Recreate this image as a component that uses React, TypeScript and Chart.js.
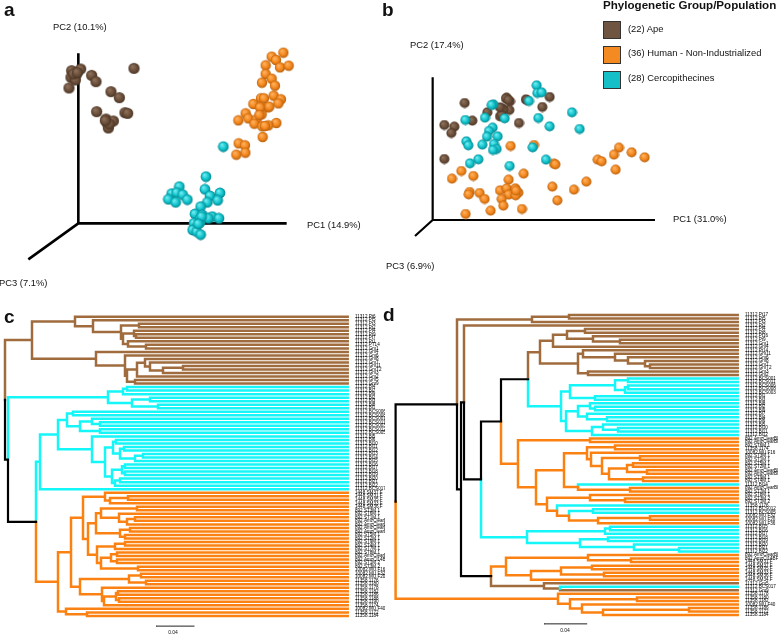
import React, { useEffect, useRef } from "react";
import { Chart, registerables } from "chart.js";

Chart.register(...registerables);

// ---------- Panel a: ordination scores, [PC1, PC2] in figure units from the axis origin
const apeA = [[167,465],[7,463],[-20,458],[-7,445],[-22,438],[-9,430],[-28,406],[40,444],[53,425],[98,395],[123,377],[55,335],[140,332],[148,330],[83,313],[105,307],[87,300],[90,286],[-15,448],[-3,452],[93,298],[81,308]];
const humanA = [[615,512],[580,500],[593,490],[562,474],[605,468],[631,473],[562,448],[580,434],[551,422],[590,413],[586,383],[548,375],[557,375],[608,372],[600,360],[525,358],[552,348],[568,348],[502,330],[550,327],[480,309],[510,315],[535,312],[528,299],[594,301],[570,294],[552,291],[553,259],[481,240],[500,234],[501,212],[474,206],[560,292],[545,348],[573,350],[543,325]];
const cercopA = [[435,230],[383,140],[303,110],[380,102],[280,89],[295,92],[313,86],[425,91],[395,82],[270,72],[292,63],[327,71],[418,69],[387,63],[367,50],[350,28],[372,25],[402,20],[422,15],[365,13],[390,15],[347,0],[365,2],[343,-20],[355,-25],[367,-34],[370,20],[360,-2]];
const axisEndsA = { pc1: [625, 0], pc2: [0, 510], pc3: [-150, -108] };

// ---------- Panel b
const apeB = [[96,351],[222,367],[232,356],[280,362],[351,369],[329,339],[164,323],[209,334],[230,330],[202,311],[119,298],[259,291],[35,285],[65,280],[56,261],[35,183],[220,364],[212,332],[207,315],[227,360],[202,338],[282,360]];
const cercopB = [[312,404],[314,381],[327,383],[289,357],[182,347],[177,345],[418,323],[216,305],[157,307],[98,300],[317,306],[351,281],[441,273],[180,277],[169,267],[163,250],[195,251],[101,236],[107,224],[149,226],[184,228],[192,213],[181,210],[300,218],[340,181],[137,182],[112,170],[231,162]];
const humanB = [[234,222],[304,225],[559,217],[544,196],[597,203],[636,188],[495,181],[507,176],[549,151],[364,169],[368,167],[273,139],[86,147],[122,132],[58,124],[228,121],[461,115],[359,100],[424,91],[111,84],[108,77],[141,81],[202,89],[222,95],[248,95],[257,82],[228,76],[249,74],[156,63],[207,63],[374,59],[212,43],[268,33],[174,28],[99,18],[250,88]];
const axisEndsB = { pc1: [667, 0], pc2: [0, 428], pc3: [-53, -48] };

// ---------- Panel c: dendrogram. A node is [group?, height, ...children]; 0 is a tip, a letter is a tip of that group.
const apeC = ['A',32,[75,0,[93,0,[121,[139,0,0],[123,[134,0,[136,0,0]],[128,0,[146,0,0]]]]]],[96,0,[125,0,[127,[137,[145,0,[150,0,[163,[183,0,0],0]]],0],[135,0,0]]]]];
const cercopC1 = ['C',108,[123,[127,0,0],0],[132,[150,0,0],[158,0,0]]];
const cercopC2 = ['C',40,[58,[67,[73,0,0],[80,[92,0,[100,0,0]],[100,0,0]]],[92,0,[105,[113,[116,0,0],[120,[124,0,0],[135,[143,0,0],0]]],[112,[122,[125,0,0],[125,0,0]],[115,[120,0,0],0]]]]],0];
const humanC = ['H',58,[71,[83,[105,0,[110,[128,0,0],0]],[88,[96,[101,[137,0,0],[119,0,[127,[135,0,0],0]]],[120,[130,0,0],[125,0,0]]],[97,[115,[125,0,0],0],[101,[111,[117,0,0],[117,0,0]],[138,0,0]]]]],[80,[129,[141,0,0],[146,0,0]],[102,0,[104,[116,[118,0,0],[119,0,0]],0]]]],[66,0,[87,0,0]]];
const treeC = ['K',5,apeC,['K',8,cercopC1,['K',36,cercopC2,humanC]]];
const tipC = 347.7;
const labelsC = [
  '11312.Pt6','11312.Pt5','11312.Pt3','11312.Pt2','11312.Pt4','11312.Pt9','11312.Pt7','11312.Pt1','11312.PT14','11312.Gm1','11312.Gm4','11312.Gm6','11312.Gm8','11312.Gm7','11312.Gm11','11312.GmT2','11312.Gm3','11312.Gm2','11312.Gm5','11312.Gm9',
  '11312.Bl4','11312.Bl7','11312.Bl9','11312.Bl2','11312.Bl3','11312.Bl8','11312.Bl1','11312.BCS006','11312.BCS008','11312.BCS001','11312.BCS011','11312.BCS003','11312.BCS012','11312.BCS005','11312.Bl5','11312.Bl6','11312.Bl10','11312.Bl11','11312.Bl12','11312.Bl13','11312.Bl14','11312.Bl15','11312.Bl16','11312.Bl17','11312.Bl18','11312.Bl19','11312.Bl20','11312.Bl21','11312.Bl22','11312.BCS017',
  '1448.SM37.F','1448.SM31.F','1448.SM35.F','1448.SM33.F','1448.SM36.F','892.ST3M.1','892.ST6M.1','892.ST1M.1','892.AmzClearBF','892.AmzClearBF','892.AmzClearBF','892.AmzClearBF','892.ST5M.1','892.ST2M.1','892.ST9M.1','892.ST4M.1','892.ST7M.1','892.ST8M.1','892.AmzClearBF','892.AmzCl14BF2','892.ST1M.2','892.ST3M.2','10082.MU.F16','10082.MU.F32','10082.MU.F20','11358.1176','11358.1180','11358.1178','11358.1182','11358.1186','11358.1188','11358.1190','11358.1174','10082.MU.F40','11358.1172','11358.1184',
];
const scaleBarC = { from: 156, to: 194, leaf: 87.9 };

// ---------- Panel d
const apeD1 = ['A',532,[569,0,0],0];
const apeD2 = ['A',540,[553,[567,[585,0,0],[593,0,[620,0,0]]],0],[578,[583,0,[615,0,[628,0,[645,0,[650,0,0]]]]],[588,0,0]]];
const cercopD1 = ['C',561,[570,[615,[628,0,0],[625,[628,0,0],0]],[595,0,0]],[566,[578,[590,0,[595,0,0]],[587,0,[607,0,0]]],[592,[603,0,[618,0,0]],0]]];
const humanD1 = ['H',518,[590,0,0],[536,[564,[587,[615,0,0],[591,0,[602,[640,0,0],[609,[627,[633,0,0],[647,0,0]],[643,0,0]]]]],[578,'C',[630,0,0]]],[547,[590,0,[625,0,0]],[557,'C',[569,['C',593,0,0],['H',598,[650,0,0],0]]]]]];
const cercopD2 = ['C',527,[605,[610,0,0],0],[580,[608,0,0],[634,0,[679,0,0]]]];
const humanD2 = ['H',506,[588,0,[631,0,0]],[531,[561,[592,0,0],[604,0,0]],0]];
const apeD3 = ['A',544,0,[560,'C',0]];
const humanD3 = ['H',558,0,[570,[637,0,0],[582,0,[603,[689,0,0],0]]]];
const treeD = ['K',395.6,['K',457,apeD1,['K',461,['K',464,'A',['K',481,['K',501,['K',528,apeD2,cercopD1],humanD1],cercopD2]],['K',491,humanD2,apeD3]]],humanD3];
const tipD = 737.7;
const labelsD = [
  '11312.Pt17','11312.Pt5','11312.Pt3','11312.Pt2','11312.Pt4','11312.Pt8','11312.Pt16','11312.Pt9','11312.Gm1','11312.Gm4','11312.Pt14','11312.Gm11','11312.Gm6','11312.Gm8','11312.Gm7','11312.GmT2','11312.Gm3','11312.Gm2',
  '11312.BCS001','11312.BCS011','11312.BCS006','11312.BCS008','11312.BCS003','11312.Bl1','11312.Bl3','11312.Bl8','11312.Bl2','11312.Bl9','11312.Bl7','11312.Bl4','11312.Bl6','11312.Bl5','11312.Bl10','11312.Bl11','11312.Bl12',
  '892.AmzClearBF','892.AmzClearBF','892.ST6M.1','11358.1174','10082.MU.F16','892.ST3M.1','892.ST1M.1','892.ST5M.1','892.ST2M.1','892.AmzClearBF','892.AmzClearBF','892.ST9M.1','892.ST4M.1','11312.Bl14','892.AmzClearBF','892.ST7M.1','892.ST8M.1','892.ST3M.2','892.ST1M.2','11358.1176','11312.BCS012','11312.BCS005','10082.MU.F32','10082.MU.F20','10082.MU.F36',
  '11312.Bl15','11312.Bl16','11312.Bl17','11312.Bl18','11312.Bl19','11312.Bl20','11312.Bl21','11312.Bl22','892.AmzClearBF','892.AmzCl14BF2','1448.SM31.F','1448.SM37.F','1448.SM35.F','1448.SM33.F','1448.SM36.F','1448.SM34.F','11312.Gm5','11312.BCS017','11312.Gm9','11358.1178','11358.1180','11358.1182','10082.MU.F40','11358.1186','11358.1172','11358.1184',
];
const scaleBarD = { from: 544, to: 586.7, leaf: 87.5 };

const legendEntries = [
  { label: "(22) Ape", color: "#6f5441" },
  { label: "(36) Human - Non-Industrialized", color: "#f48a22" },
  { label: "(28) Cercopithecines", color: "#14bfc8" },
];

const sphereBrown = ["#8d705a", "#6a4e3a", "#4a3424"];
const sphereOrange = ["#ffb060", "#f3871c", "#b8600e"];
const sphereCyan = ["#6feaf0", "#0fc3cc", "#07868e"];
const treeColors: Record<string, string> = { A: "#a06c3e", H: "#fb8212", C: "#14f6f8", K: "#000000" };

function sphere(stops: string[], r: number) {
  const c = document.createElement("canvas");
  const size = Math.ceil(2 * r + 1);
  c.width = size;
  c.height = size;
  const g = c.getContext("2d")!;
  const m = size / 2;
  const grad = g.createRadialGradient(m - r * 0.3, m - r * 0.35, r * 0.1, m, m, r);
  grad.addColorStop(0, stops[0]);
  grad.addColorStop(0.6, stops[1]);
  grad.addColorStop(1, stops[2]);
  g.fillStyle = grad;
  g.beginPath();
  g.arc(m, m, r, 0, Math.PI * 2);
  g.fill();
  return c;
}

const toPoints = (rows: number[][]) => rows.map(([x, y]) => ({ x, y }));

function scatterConfig(
  series: { rows: number[][]; stops: string[]; r: number; name: string }[],
  axes: { pc1: number[]; pc2: number[]; pc3: number[] },
  range: { xMin: number; xMax: number; yMin: number; yMax: number },
  axisWidth: number
) {
  const gap = { x: NaN, y: NaN };
  const o = { x: 0, y: 0 };
  const pt = (a: number[]) => ({ x: a[0], y: a[1] });
  return {
    type: "scatter",
    data: {
      datasets: [
        ...series.map((s) => ({
          label: s.name,
          data: toPoints(s.rows),
          pointStyle: sphere(s.stops, s.r),
          pointRadius: s.r,
          showLine: false,
        })),
        {
          label: "axes",
          data: [pt(axes.pc1), o, pt(axes.pc2), gap, o, pt(axes.pc3)],
          showLine: true,
          pointRadius: 0,
          borderColor: "#000",
          borderWidth: axisWidth,
          borderCapStyle: "butt",
          borderJoinStyle: "miter",
        },
      ],
    },
    options: {
      animation: false,
      responsive: false,
      layout: { padding: 0, autoPadding: false },
      plugins: { legend: { display: false }, tooltip: { enabled: false } },
      scales: {
        x: { type: "linear", display: false, min: range.xMin, max: range.xMax },
        y: { type: "linear", display: false, min: range.yMin, max: range.yMax },
      },
    },
  };
}

function treeSegments(tree: any[], tip: number) {
  const out: Record<string, { x: number; y: number }[]> = { A: [], H: [], C: [], K: [] };
  let leaf = 0;
  const walk = (node: any, inherited: string): { x: number; y: number; g: string } => {
    if (!Array.isArray(node)) {
      return { x: tip, y: leaf++, g: typeof node === "string" ? node : inherited };
    }
    const hasGroup = typeof node[0] === "string";
    const g = hasGroup ? node[0] : inherited;
    const x = node[hasGroup ? 1 : 0];
    const kids = node.slice(hasGroup ? 2 : 1).map((k: any) => walk(k, g));
    const y = (kids[0].y + kids[kids.length - 1].y) / 2;
    kids.forEach((k: any) => {
      out[k.g].push({ x, y }, { x, y: k.y }, { x: k.x, y: k.y }, { x: NaN, y: NaN });
    });
    return { x, y, g };
  };
  walk(tree, "K");
  return out;
}

function treeConfig(
  tree: any[],
  tip: number,
  labels: string[],
  bar: { from: number; to: number; leaf: number },
  range: { xMin: number; xMax: number; yMin: number; yMax: number },
  axisWidth: number
) {
  const seg = treeSegments(tree, tip);
  const line = (label: string, data: any[], color: string, width: number) => ({
    label,
    data,
    showLine: true,
    pointRadius: 0,
    borderColor: color,
    borderWidth: width,
    borderCapStyle: "square",
    borderJoinStyle: "miter",
  });
  return {
    type: "scatter",
    data: {
      datasets: [
        line("scale", [{ x: bar.from, y: bar.leaf }, { x: bar.to, y: bar.leaf }], "#222", 1),
        line("Other", seg.K, treeColors.K, 2.2),
        line("Human", seg.H, treeColors.H, 2.5),
        line("Cercopithecines", seg.C, treeColors.C, 2.5),
        line("Ape", seg.A, treeColors.A, 2.5),
      ],
    },
    options: {
      animation: false,
      responsive: false,
      layout: { padding: 0, autoPadding: false },
      plugins: { legend: { display: false }, tooltip: { enabled: false } },
      scales: {
        x: { type: "linear", display: false, min: range.xMin, max: range.xMax },
        y: {
          type: "linear",
          position: "right",
          reverse: true,
          min: range.yMin,
          max: range.yMax,
          grid: { display: false, drawTicks: false },
          border: { display: false },
          afterBuildTicks: (s: any) => {
            s.ticks = labels.map((_, i) => ({ value: i }));
          },
          afterFit: (s: any) => {
            s.width = axisWidth;
            s.paddingTop = 0;
            s.paddingBottom = 0;
          },
          ticks: {
            autoSkip: false,
            padding: 5,
            color: "#000",
            font: { family: "'Liberation Sans', Arial", size: 4.6 },
            callback: (v: number) => labels[v],
          },
        },
      },
    },
  };
}

function Panel({ left, top, width, height, build }: any) {
  const ref = useRef<HTMLCanvasElement>(null);
  useEffect(() => {
    const chart = new Chart(ref.current as any, build());
    return () => chart.destroy();
  }, []);
  return (
    <canvas
      ref={ref}
      width={width}
      height={height}
      style={{ position: "absolute", left, top, width, height, display: "block" }}
    />
  );
}

const FONT = "'Liberation Sans', Arial, sans-serif";

function Txt({ x, y, size = 9.4, bold = false, center = false, children }: any) {
  return (
    <div
      style={{
        position: "absolute",
        left: x,
        top: y,
        transform: center ? "translate(-50%,-50%)" : "translateY(-50%)",
        font: `${bold ? "bold " : ""}${size}px ${FONT}`,
        color: "#111",
        whiteSpace: "nowrap",
        lineHeight: 1,
      }}
    >
      {children}
    </div>
  );
}

export default function App() {
  return (
    <div style={{ position: "absolute", left: 0, top: 0, width: 778, height: 634, background: "#fff", overflow: "hidden" }}>
      <Panel
        left={0} top={0} width={370} height={300}
        build={() =>
          scatterConfig(
            [
              { name: "Cercopithecines", rows: cercopA, stops: sphereCyan, r: 5.4 },
              { name: "Human", rows: humanA, stops: sphereOrange, r: 5.2 },
              { name: "Ape", rows: apeA, stops: sphereBrown, r: 5.6 },
            ],
            axisEndsA,
            { xMin: -235, xMax: 875, yMin: -230, yMax: 670 },
            2.6
          )
        }
      />
      <Panel
        left={380} top={0} width={398} height={300}
        build={() =>
          scatterConfig(
            [
              { name: "Cercopithecines", rows: cercopB, stops: sphereCyan, r: 5 },
              { name: "Ape", rows: apeB, stops: sphereBrown, r: 5 },
              { name: "Human", rows: humanB, stops: sphereOrange, r: 5 },
            ],
            axisEndsB,
            { xMin: -158, xMax: 1036, yMin: -240, yMax: 660 },
            2.2
          )
        }
      />
      <Panel
        left={0} top={300} width={385} height={334}
        build={() => treeConfig(treeC, tipC, labelsC, scaleBarC, { xMin: 0, xMax: 350, yMin: -4.744, yMax: 90.14 }, 35)}
      />
      <Panel
        left={385} top={300} width={393} height={334}
        build={() => treeConfig(treeD, tipD, labelsD, scaleBarD, { xMin: 385, xMax: 740, yMin: -4.25, yMax: 90.37 }, 38)}
      />

      <Txt x={4} y={9} size={19} bold>a</Txt>
      <Txt x={53} y={27}>PC2 (10.1%)</Txt>
      <Txt x={307} y={225}>PC1 (14.9%)</Txt>
      <Txt x={-1} y={283}>PC3 (7.1%)</Txt>

      <Txt x={382} y={9} size={19} bold>b</Txt>
      <Txt x={410} y={45}>PC2 (17.4%)</Txt>
      <Txt x={673} y={219}>PC1 (31.0%)</Txt>
      <Txt x={386} y={266}>PC3 (6.9%)</Txt>

      <Txt x={603} y={5} size={11.6} bold>Phylogenetic Group/Population</Txt>
      {legendEntries.map((e, i) => (
        <React.Fragment key={e.label}>
          <div
            style={{
              position: "absolute",
              left: 603,
              top: [21, 46, 71][i],
              width: 16,
              height: 16,
              background: e.color,
              border: "1px solid #333",
            }}
          />
          <Txt x={628} y={[29, 53, 78][i]} size={9.4}>{e.label}</Txt>
        </React.Fragment>
      ))}

      <Txt x={4} y={316} size={19} bold>c</Txt>
      <Txt x={383} y={314} size={19} bold>d</Txt>
      <Txt x={173} y={632} size={5} center>0.04</Txt>
      <Txt x={565} y={630} size={5} center>0.04</Txt>
    </div>
  );
}
